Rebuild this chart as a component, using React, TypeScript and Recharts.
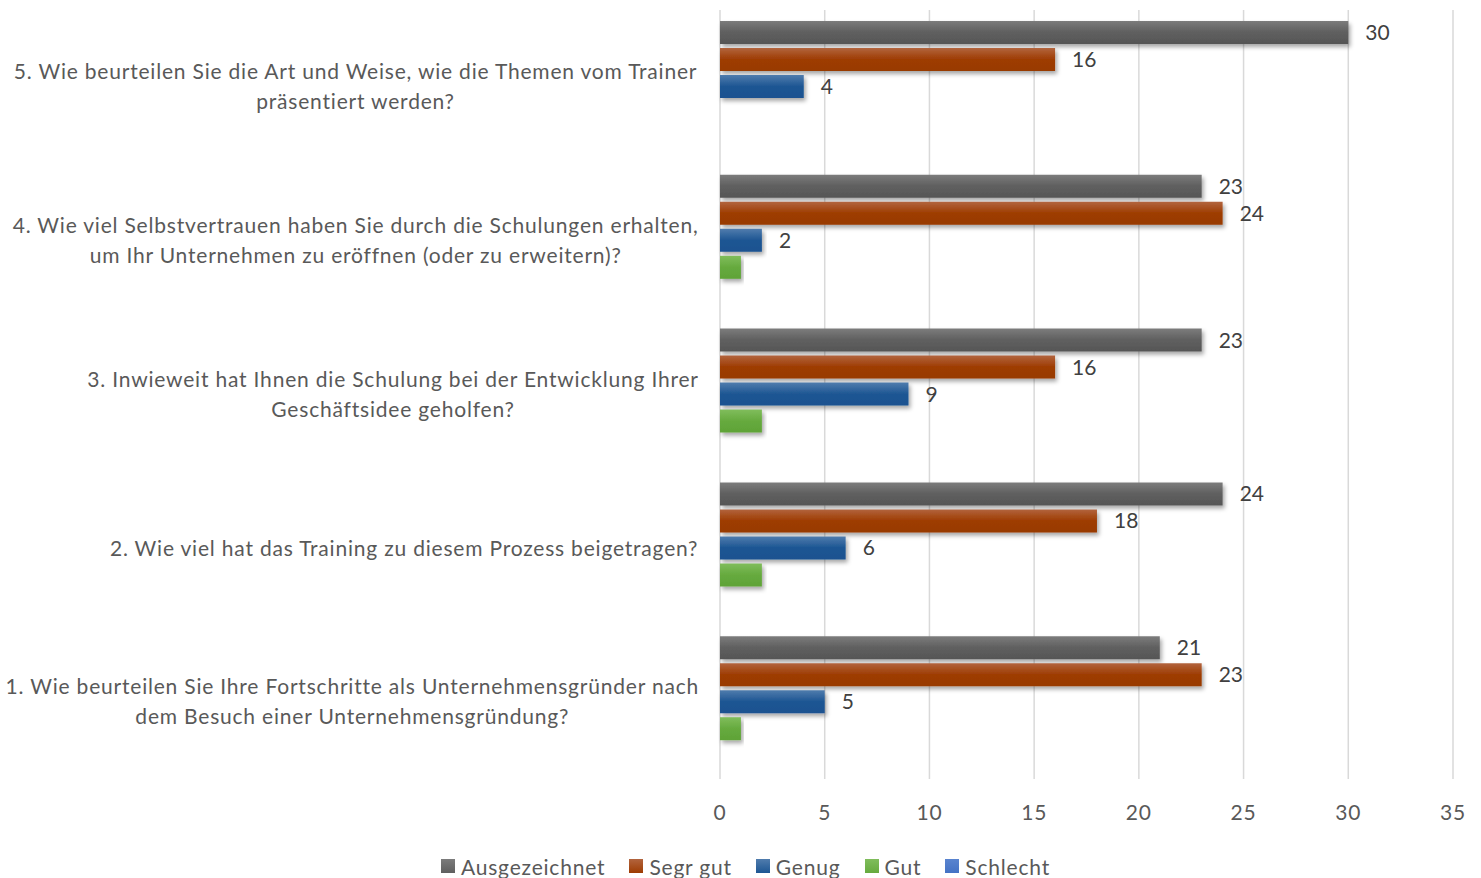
import React from "react";
import { BarChart, Bar, XAxis, YAxis, CartesianGrid, LabelList, Legend } from "recharts";

const questions = [
  "5. Wie beurteilen Sie die Art und Weise, wie die Themen vom Trainer präsentiert werden?",
  "4. Wie viel Selbstvertrauen haben Sie durch die Schulungen erhalten, um Ihr Unternehmen zu eröffnen (oder zu erweitern)?",
  "3. Inwieweit hat Ihnen die Schulung bei der Entwicklung Ihrer Geschäftsidee geholfen?",
  "2. Wie viel hat das Training zu diesem Prozess beigetragen?",
  "1. Wie beurteilen Sie Ihre Fortschritte als Unternehmensgründer nach dem Besuch einer Unternehmensgründung?",
];
const questionLines = [
  ["5. Wie beurteilen Sie die Art und Weise, wie die Themen vom Trainer", "präsentiert werden?"],
  ["4. Wie viel Selbstvertrauen haben Sie durch die Schulungen erhalten,", "um Ihr Unternehmen zu eröffnen (oder zu erweitern)?"],
  ["3. Inwieweit hat Ihnen die Schulung bei der Entwicklung Ihrer", "Geschäftsidee geholfen?"],
  ["2. Wie viel hat das Training zu diesem Prozess beigetragen?"],
  ["1. Wie beurteilen Sie Ihre Fortschritte als Unternehmensgründer nach", "dem Besuch einer Unternehmensgründung?"],
];
const ausgezeichnet = [30, 23, 23, 24, 21];
const segrGut = [16, 24, 16, 18, 23];
const genug = [4, 2, 9, 6, 5];
const gut = [0, 1, 2, 2, 1];
const schlecht = [0, 0, 0, 0, 0];
const xTicks = [0, 5, 10, 15, 20, 25, 30, 35];

const series = [
  { key: "ausgezeichnet", name: "Ausgezeichnet", top: "#7c7c7c", mid: "#5f5f5f", bot: "#565656", label: true },
  { key: "segrGut", name: "Segr gut", top: "#b2643e", mid: "#9e3c02", bot: "#983a00", label: true },
  { key: "genug", name: "Genug", top: "#507cad", mid: "#1d5693", bot: "#1a5190", label: true },
  { key: "gut", name: "Gut", top: "#80bd5c", mid: "#66aa3e", bot: "#5fa337", label: false },
  { key: "schlecht", name: "Schlecht", top: "#5a84cf", mid: "#4472c4", bot: "#3e6abc", label: false },
];

const data = questions.map((q, i) => ({
  q,
  ausgezeichnet: ausgezeichnet[i],
  segrGut: segrGut[i],
  genug: genug[i],
  gut: gut[i],
  schlecht: schlecht[i],
}));

const FONT = "Lato, 'Open Sans', sans-serif";
const TEXT = "#595959";
const FS = 21;
const LS = 0.8;

let ctx: CanvasRenderingContext2D | null = null;
function measure(s: string): number {
  if (!ctx) {
    const c = document.createElement("canvas");
    ctx = c.getContext("2d");
  }
  if (!ctx) return s.length * 11;
  ctx.font = `${FS}px Lato`;
  return ctx.measureText(s).width + s.length * LS;
}

const CategoryTick = (props: any) => {
  const { y, payload } = props;
  const idx = questions.indexOf(payload.value);
  const lines = idx >= 0 ? questionLines[idx] : [String(payload.value)];
  const maxW = Math.max(...lines.map(measure));
  const right = 699;
  const cx = right - maxW / 2;
  const lh = 30;
  const startY = y - ((lines.length - 1) * lh) / 2;
  return (
    <g>
      {lines.map((l, i) => (
        <text
          key={i}
          x={cx}
          y={startY + i * lh}
          dy="0.35em"
          textAnchor="middle"
          fill={TEXT}
          fontSize={FS}
          fontFamily={FONT}
          letterSpacing={LS}
        >
          {l}
        </text>
      ))}
    </g>
  );
};

const LegendContent = () => (
  <div
    style={{
      display: "flex",
      justifyContent: "center",
      alignItems: "center",
      height: 24,
      fontFamily: FONT,
      fontSize: FS,
      letterSpacing: LS,
      color: TEXT,
      paddingLeft: 62,
    }}
  >
    {series.map((s) => (
      <div key={s.key} style={{ display: "flex", alignItems: "center", marginRight: 24 }}>
        <div
          style={{
            width: 14,
            height: 14,
            background: `linear-gradient(${s.top}, ${s.mid})`,
            marginRight: 6,
          }}
        />
        <span>{s.name}</span>
      </div>
    ))}
  </div>
);

export default function App() {
  return (
    <div style={{ position: "absolute", left: 0, top: 0, background: "#fff" }}>
      <BarChart
        width={1481}
        height={878}
        data={data}
        layout="vertical"
        margin={{ top: 10, right: 28, bottom: 0, left: 0 }}
        barSize={23}
        barGap={4}
      >
        <defs>
          {series.map((s) => (
            <linearGradient key={s.key} id={`grad-${s.key}`} x1="0" y1="0" x2="0" y2="1">
              <stop offset="0%" stopColor={s.top} />
              <stop offset="50%" stopColor={s.mid} />
              <stop offset="100%" stopColor={s.bot} />
            </linearGradient>
          ))}
          <filter id="barShadow" x="-5%" y="-30%" width="115%" height="180%">
            <feDropShadow dx="2" dy="3" stdDeviation="2" floodColor="#000" floodOpacity="0.35" />
          </filter>
        </defs>
        <CartesianGrid horizontal={false} stroke="#d9d9d9" strokeWidth={1.5} />
        <XAxis
          type="number"
          domain={[0, 35]}
          ticks={xTicks}
          axisLine={false}
          tickLine={false}
          tickSize={0}
          tickMargin={26}
          height={75}
          tick={{ fill: TEXT, fontSize: FS, fontFamily: FONT, letterSpacing: LS }}
          interval={0}
        />
        <YAxis
          type="category"
          dataKey="q"
          width={720}
          axisLine={false}
          tickLine={false}
          tick={<CategoryTick />}
          interval={0}
        />
        <Legend verticalAlign="bottom" height={24} content={<LegendContent />} />
        {series.map((s) => (
          <Bar
            key={s.key}
            dataKey={s.key}
            name={s.name}
            fill={`url(#grad-${s.key})`}
            filter="url(#barShadow)"
            isAnimationActive={false}
          >
            {s.label && (
              <LabelList
                dataKey={s.key}
                position="right"
                offset={17}
                fill="#404040"
                fontSize={FS}
                fontFamily={FONT}
              />
            )}
          </Bar>
        ))}
      </BarChart>
    </div>
  );
}
